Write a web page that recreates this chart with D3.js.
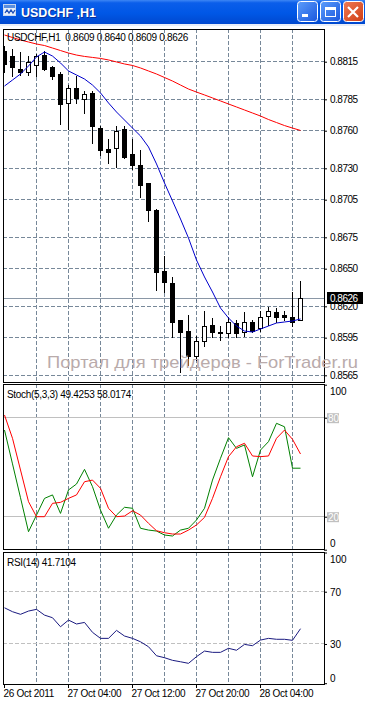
<!DOCTYPE html>
<html>
<head>
<meta charset="utf-8">
<script src="https://cdn.jsdelivr.net/npm/d3@7"></script>
<style>
body { margin:0; background:#fff; }
svg { display:block; }
text { font-family:"Liberation Sans", Arial, sans-serif; }
</style>
</head>
<body>
<svg></svg>
<script>
// USDCHF H1, one bar per hour from 26 Oct 2011 20:00
var barTimes = d3.timeHours(new Date(2011,9,26,20), new Date(2011,9,28,10));

var opens  = [0.8823,0.8819,0.8809,0.8806,0.8812,0.8820,0.8810,0.8805,0.8782,0.8794,0.8785,0.8790,0.8762,0.8745,0.8746,0.8761,0.8741,0.8732,0.8718,0.8696,0.8648,0.8638,0.8609,0.8600,0.8580,0.8592,0.8605,0.8599,0.8598,0.8606,0.8599,0.8607,0.8602,0.8612,0.8615,0.8613,0.8611,0.8609];
var highs  = [0.8827,0.8825,0.8822,0.8819,0.8821,0.8823,0.8811,0.8806,0.8796,0.8803,0.8791,0.8791,0.8763,0.8753,0.8763,0.8763,0.8753,0.8744,0.8718,0.8697,0.8660,0.8643,0.8609,0.8613,0.8596,0.8616,0.8610,0.8604,0.8611,0.8609,0.8615,0.8609,0.8616,0.8619,0.8618,0.8616,0.8631,0.8640];
var lows   = [0.8806,0.8803,0.8804,0.8804,0.8803,0.8808,0.8801,0.8765,0.8761,0.8782,0.8774,0.8750,0.8740,0.8734,0.8731,0.8738,0.8729,0.8707,0.8688,0.8633,0.8631,0.8595,0.8567,0.8573,0.8577,0.8588,0.8595,0.8593,0.8595,0.8595,0.8596,0.8599,0.8600,0.8605,0.8607,0.8609,0.8604,0.8609];
var closes = [0.8813,0.8810,0.8806,0.8814,0.8819,0.8809,0.8803,0.8781,0.8794,0.8786,0.8789,0.8763,0.8744,0.8743,0.8759,0.8739,0.8732,0.8716,0.8696,0.8647,0.8639,0.8607,0.8599,0.8580,0.8592,0.8604,0.8599,0.8598,0.8607,0.8598,0.8607,0.8600,0.8611,0.8616,0.8611,0.8611,0.8607,0.8626];

// moving averages (blue fast, red slow)
var maFast = [0.87956,0.88004,0.88052,0.88116,0.88188,0.88227,0.88195,0.88140,0.88076,0.88044,0.88012,0.87964,0.87901,0.87821,0.87749,0.87685,0.87621,0.87558,0.87470,0.87335,0.87183,0.87040,0.86896,0.86744,0.86569,0.86434,0.86314,0.86186,0.86107,0.86043,0.86003,0.85995,0.86019,0.86043,0.86067,0.86075,0.86083,0.86099];
var maSlow = [0.88363,0.88343,0.88323,0.88307,0.88291,0.88279,0.88259,0.88239,0.88219,0.88203,0.88192,0.88184,0.88176,0.88164,0.88148,0.88132,0.88120,0.88100,0.88076,0.88052,0.88024,0.87996,0.87964,0.87932,0.87908,0.87885,0.87861,0.87837,0.87813,0.87789,0.87765,0.87741,0.87717,0.87689,0.87665,0.87641,0.87621,0.87602];

var stochK = [72.5,52,31.5,10.9,21,31.1,33.2,22,36.2,39.8,48.7,38.2,24,13,21,25.7,25.1,13,11.9,11.3,8.9,8.3,11.9,13,18,25.1,42.2,55.4,67.9,61.4,63.5,44.2,60.4,65.5,76.6,74.5,49.4,49.4];
var stochD = [81.6,67.5,48.3,29.1,20,20,28.1,28.7,31.1,33.2,41.2,42.2,37.2,25.1,20,20.4,23.6,21,16,11.5,10.3,9.5,9.5,11.9,15,19.6,31.1,44.2,56.4,62.4,64.5,56.8,56.4,56.8,67.5,72.5,66.9,58.0];
var rsi    = [57.7,54.7,52.7,55.2,56.5,52.1,50.1,43.2,48.3,45.3,46.5,38.9,34.3,34.3,40.4,36.1,34.3,31.7,27.9,21,19.5,17.5,16.4,15.2,20.3,24.6,23.6,23.6,26.7,25.2,29.7,28.7,33,34.3,33.6,33.6,32.8,41.7];

var priceTicks = [0.8815,0.8785,0.8760,0.8730,0.8705,0.8675,0.8650,0.8620,0.8595,0.8565];
var stochTicks = [100,80,20,0];
var stochLevels = [80,20];
var rsiTicks = [100,70,30,0];
var rsiLevels = [70,30];
var gridTimes = d3.timeHours(new Date(2011,9,27,0), new Date(2011,9,28,9), 4);
var timeTicks = [new Date(2011,9,26,20), new Date(2011,9,27,4), new Date(2011,9,27,12), new Date(2011,9,27,20), new Date(2011,9,28,4)];
var timeLabels = ["26 Oct 2011","27 Oct 04:00","27 Oct 12:00","27 Oct 20:00","28 Oct 04:00"];

var symbol = "USDCHF,H1";
var stochTitle = "Stoch(5,3,3) 49.4253 58.0174";
var rsiTitle = "RSI(14) 41.7104";
var watermark = "Портал для трейдеров - ForTrader.ru";

var screen = {width:365, height:703};
var svg = d3.select("svg")
            .attr("width",screen.width)
            .attr("height",screen.height);

var left = 3, right = 324;
var mainP  = {top:29,  bottom:382};
var stochP = {top:384, bottom:549};
var rsiP   = {top:552, bottom:684};

// scales
var xScale = d3.scaleTime()
               .domain([new Date(2011,9,26,20), new Date(2011,9,28,12)])
               .range([4, 324]);
var yPrice = d3.scaleLinear().domain([0.8565,0.8815]).range([375.3,61.7]);
var yStoch = d3.scaleLinear().domain([0,100]).range([549.7,384.7]);
var yRsi   = d3.scaleLinear().domain([0,100]).range([683.2,552.5]);

var gridColor = "#778899";
var px = function(v){ return Math.floor(v) + 0.5; };
var bx = function(i){ return Math.round(xScale(barTimes[i])); };

// window title bar
var defs = svg.append("defs");
var tg = defs.append("linearGradient").attr("id","title").attr("x1",0).attr("y1",0).attr("x2",0).attr("y2",1);
tg.append("stop").attr("offset","0%").attr("stop-color","#3d86f4");
tg.append("stop").attr("offset","12%").attr("stop-color","#0b5eea");
tg.append("stop").attr("offset","55%").attr("stop-color","#0057e6");
tg.append("stop").attr("offset","100%").attr("stop-color","#0048cf");
var bg = defs.append("linearGradient").attr("id","btn").attr("x1",0).attr("y1",0).attr("x2",1).attr("y2",1);
bg.append("stop").attr("offset","0%").attr("stop-color","#5c9dfb");
bg.append("stop").attr("offset","100%").attr("stop-color","#1a57de");
var cg = defs.append("linearGradient").attr("id","close").attr("x1",0).attr("y1",0).attr("x2",1).attr("y2",1);
cg.append("stop").attr("offset","0%").attr("stop-color","#ee7b55");
cg.append("stop").attr("offset","100%").attr("stop-color","#cf3d14");

svg.append("rect").attr("x",0).attr("y",0).attr("width",screen.width).attr("height",24).attr("fill","url(#title)");
svg.append("rect").attr("x",0).attr("y",24).attr("width",screen.width).attr("height",2).attr("fill","#e9eef8");

var icon = svg.append("g").attr("transform","translate(3,3)");
icon.append("rect").attr("x",0.5).attr("y",1.5).attr("width",12).attr("height",11).attr("fill","#e8f0fc").attr("stroke","#c7d6ee");
icon.append("rect").attr("x",1).attr("y",2).attr("width",11).attr("height",3).attr("fill","#5a8fe0");
icon.append("path").attr("d","M2,10 L4,7 L6,10 L8,7 L10,10 L12,7").attr("fill","none").attr("stroke","#1e4fb8").attr("stroke-width",1.3);

svg.append("text").attr("x",22).attr("y",18).attr("fill","#0a2f9a")
   .attr("font-size",12.5).attr("font-weight","bold").text("USDCHF ,H1");
svg.append("text").attr("x",21).attr("y",17).attr("fill","#fff")
   .attr("font-size",12.5).attr("font-weight","bold").text("USDCHF ,H1");

var buttons = [{x:297.5, fill:"url(#btn)"},{x:320.5, fill:"url(#btn)"},{x:343.5, fill:"url(#close)"}];
svg.selectAll("rect.btn").data(buttons).enter().append("rect").classed("btn",true)
   .attr("x",function(d){return d.x;}).attr("y",1.5).attr("width",20).attr("height",20)
   .attr("rx",3).attr("fill",function(d){return d.fill;}).attr("stroke","#fff");
svg.append("rect").attr("x",302).attr("y",14).attr("width",6).attr("height",3).attr("fill","#fff");
svg.append("rect").attr("x",325.5).attr("y",7.5).attr("width",10).attr("height",9).attr("fill","none").attr("stroke","#fff");
svg.append("rect").attr("x",325).attr("y",7).attr("width",11).attr("height",3).attr("fill","#fff");
svg.append("path").attr("d","M348,7 L358,17 M358,7 L348,17").attr("stroke","#fff").attr("stroke-width",2.2);

// clip paths for the three panels
[["cm",mainP],["cs",stochP],["cr",rsiP]].forEach(function(c){
  defs.append("clipPath").attr("id",c[0]).append("rect")
      .attr("x",left+1).attr("y",c[1].top+1)
      .attr("width",right-left-1).attr("height",c[1].bottom-c[1].top-1);
});

var drawVGrid = function(g, p)
{
  g.selectAll("line.vg").data(gridTimes).enter().append("line").classed("vg",true)
   .attr("x1",function(d){return Math.round(xScale(d))+0.5;})
   .attr("x2",function(d){return Math.round(xScale(d))+0.5;})
   .attr("y1",p.top).attr("y2",p.bottom)
   .attr("stroke",gridColor).attr("stroke-dasharray","4,2");
};

// ---------- main panel ----------
var main = svg.append("g").attr("clip-path","url(#cm)");
drawVGrid(main, mainP);
main.selectAll("line.hg").data(priceTicks).enter().append("line").classed("hg",true)
    .attr("x1",left).attr("x2",right)
    .attr("y1",function(d){return px(yPrice(d));})
    .attr("y2",function(d){return px(yPrice(d));})
    .attr("stroke",gridColor).attr("stroke-dasharray","4,2");

var last = closes.length - 1;
main.append("line").attr("x1",left).attr("x2",right)
    .attr("y1",px(yPrice(closes[last]))).attr("y2",px(yPrice(closes[last])))
    .attr("stroke","#8a97a6");

var idx = d3.range(closes.length);
var candles = main.selectAll("g.candle").data(idx).enter().append("g").classed("candle",true);
candles.append("line")
       .attr("x1",function(i){return bx(i)+0.5;})
       .attr("x2",function(i){return bx(i)+0.5;})
       .attr("y1",function(i){return Math.floor(yPrice(highs[i]));})
       .attr("y2",function(i){return Math.floor(yPrice(lows[i]))+1;})
       .attr("stroke","#000");
candles.append("rect")
       .attr("x",function(i){return bx(i)-1.5;})
       .attr("y",function(i){return px(yPrice(Math.max(opens[i],closes[i])));})
       .attr("width",4)
       .attr("height",function(i){return Math.floor(yPrice(Math.min(opens[i],closes[i]))) - Math.floor(yPrice(Math.max(opens[i],closes[i])));})
       .attr("fill",function(i){return closes[i] > opens[i] ? "#fff" : "#000";})
       .attr("stroke","#000");

var priceLine = function(arr){
  return d3.line().x(function(d,i){return bx(i)+0.5;}).y(function(d){return yPrice(d);})(arr);
};
main.append("path").attr("d",priceLine(maSlow)).attr("fill","none").attr("stroke","#ff0000");
main.append("path").attr("d",priceLine(maFast)).attr("fill","none").attr("stroke","#0000cc");

var f4 = d3.format(".4f");
svg.append("text").attr("x",7).attr("y",40.5).attr("font-size",10).attr("letter-spacing",-0.3)
   .attr("xml:space","preserve")
   .text(symbol + "  " + f4(opens[last]) + " " + f4(highs[last]) + " " + f4(lows[last]) + " " + f4(closes[last]));

var priceAxis = svg.append("g").attr("transform","translate(" + right + ",0)")
                   .call(d3.axisRight(yPrice).tickValues(priceTicks).tickSize(3).tickPadding(3).tickFormat(f4));
priceAxis.select(".domain").remove();
priceAxis.selectAll("text").attr("font-family","Liberation Sans, Arial, sans-serif").attr("font-size",10).attr("letter-spacing",-0.5);
priceAxis.selectAll("line").attr("stroke","#000");

// current price box
var cp = px(yPrice(closes[last]));
svg.append("rect").attr("x",327).attr("y",cp-6.5).attr("width",36).attr("height",12).attr("fill","#000");
svg.append("text").attr("x",330).attr("y",cp+3.5).attr("font-size",10).attr("letter-spacing",-0.5)
   .attr("fill","#fff").text(f4(closes[last]));

svg.append("rect").attr("x",left+0.5).attr("y",mainP.top+0.5).attr("width",right-left).attr("height",mainP.bottom-mainP.top)
   .attr("fill","none").attr("stroke","#000");

// watermark runs across the price axis too
svg.append("text").attr("x",47).attr("y",368).attr("font-size",17)
   .attr("fill","#b9abab").attr("textLength",311).attr("lengthAdjust","spacingAndGlyphs")
   .text(watermark);

// ---------- stochastic panel ----------
var st = svg.append("g").attr("clip-path","url(#cs)");
drawVGrid(st, stochP);
st.selectAll("line.lv").data(stochLevels).enter().append("line").classed("lv",true)
  .attr("x1",left).attr("x2",right)
  .attr("y1",function(d){return px(yStoch(d));}).attr("y2",function(d){return px(yStoch(d));})
  .attr("stroke","#c0c0c0");
var stLine = function(arr){
  return d3.line().x(function(d,i){return bx(i)+0.5;}).y(function(d){return yStoch(d);})(arr);
};
st.append("path").attr("d",stLine(stochK)).attr("fill","none").attr("stroke","#008000");
st.append("path").attr("d",stLine(stochD)).attr("fill","none").attr("stroke","#ff0000");

svg.append("text").attr("x",7).attr("y",398).attr("font-size",10).attr("letter-spacing",-0.3).text(stochTitle);
svg.append("rect").attr("x",left+0.5).attr("y",stochP.top+0.5).attr("width",right-left).attr("height",stochP.bottom-stochP.top)
   .attr("fill","none").attr("stroke","#000");

var stAxis = svg.append("g").attr("transform","translate(" + right + ",0)")
                .call(d3.axisRight(yStoch).tickValues(stochTicks).tickSize(3).tickPadding(3));
stAxis.select(".domain").remove();
stAxis.selectAll("line").attr("stroke","#000");
stAxis.selectAll(".tick").filter(function(d){return stochLevels.indexOf(d) >= 0;})
      .insert("rect","text").attr("x",3).attr("y",-5).attr("width",12).attr("height",10).attr("fill","#c0c0c0");
stAxis.selectAll("text").attr("font-family","Liberation Sans, Arial, sans-serif").attr("font-size",10)
      .attr("x",function(d){return stochLevels.indexOf(d) >= 0 ? 4 : 6;})
      .attr("dy",function(d){return d == 100 ? 10 : d == 0 ? -3 : 3.5;})
      .attr("fill",function(d){return stochLevels.indexOf(d) >= 0 ? "#fff" : "#000";});

// ---------- RSI panel ----------
var rp = svg.append("g").attr("clip-path","url(#cr)");
drawVGrid(rp, rsiP);
rp.selectAll("line.lv").data(rsiLevels).enter().append("line").classed("lv",true)
  .attr("x1",left).attr("x2",right)
  .attr("y1",function(d){return px(yRsi(d));}).attr("y2",function(d){return px(yRsi(d));})
  .attr("stroke","#c0c0c0").attr("stroke-dasharray","4,2");
rp.append("path")
  .attr("d",d3.line().x(function(d,i){return bx(i)+0.5;}).y(function(d){return yRsi(d);})(rsi))
  .attr("fill","none").attr("stroke","#1a1a80");

svg.append("text").attr("x",7).attr("y",565.5).attr("font-size",10).attr("letter-spacing",-0.3).text(rsiTitle);
svg.append("rect").attr("x",left+0.5).attr("y",rsiP.top+0.5).attr("width",right-left).attr("height",rsiP.bottom-rsiP.top)
   .attr("fill","none").attr("stroke","#000");

var rAxis = svg.append("g").attr("transform","translate(" + right + ",0)")
               .call(d3.axisRight(yRsi).tickValues(rsiTicks).tickSize(3).tickPadding(3));
rAxis.select(".domain").remove();
rAxis.selectAll("line").attr("stroke","#000");
rAxis.selectAll("text").attr("font-family","Liberation Sans, Arial, sans-serif").attr("font-size",10)
     .attr("dy",function(d){return d == 100 ? 10 : d == 0 ? -2 : 3.5;});

// time axis
var tAxis = svg.append("g").attr("transform","translate(0," + rsiP.bottom + ")")
               .call(d3.axisBottom(xScale).tickValues(timeTicks).tickSize(4).tickPadding(2)
                       .tickFormat(function(d,i){return timeLabels[i];}));
tAxis.select(".domain").remove();
tAxis.selectAll("line").attr("stroke","#000");
tAxis.selectAll("text").attr("font-family","Liberation Sans, Arial, sans-serif").attr("font-size",10)
     .attr("letter-spacing",-0.3).attr("text-anchor","start").attr("x",-1);
</script>
</body>
</html>
